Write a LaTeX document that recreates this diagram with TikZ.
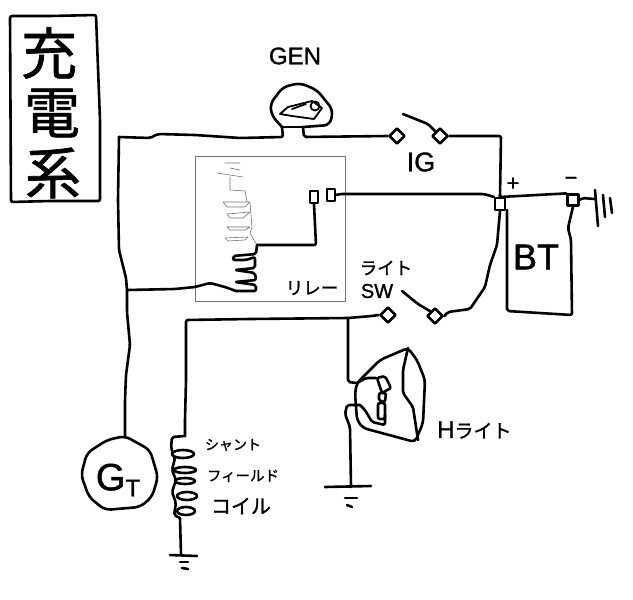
\documentclass[tikz,border=0pt]{standalone}
\usepackage{fontspec}
\setmainfont{Liberation Sans}
\newfontfamily\cjk[FakeBold=1.2]{Noto Sans CJK JP}
\newfontfamily\latmid[FakeBold=1.2]{Liberation Sans}
\usetikzlibrary{shapes.geometric}

\begin{document}
\begin{tikzpicture}[
  x=1pt, y=-1pt,
  line join=round,
  line cap=round,
  wire/.style={line width=2.6pt, rounded corners=2pt},
  fine/.style={line width=0.6pt, draw=black!55},
  term/.style={draw, line width=2.2pt, fill=white, minimum width=8pt, minimum height=12pt, inner sep=0pt},
  contact/.style={draw, diamond, line width=2.6pt, fill=white, minimum size=16pt, inner sep=0pt},
  jp/.style={font=\cjk\fontsize{#1}{#1}\selectfont, inner sep=0pt},
  lat/.style={font=\latmid\fontsize{#1}{#1}\selectfont, inner sep=0pt}
]
  \useasboundingbox (0,0) rectangle (633,600);

  % Title
  \draw[wire] (10,16) -- (50,16) -- (96,15) -- (100,120) -- (100,201) -- (50,201) -- (11,202) -- cycle;
  \node[jp=56] (title1) at (49,53) {充};
  \node[jp=56] (title2) at (52,113) {電};
  \node[jp=56] (title3) at (53,173) {系};

  % Main nodes
  \node[lat=24] (genlabel) at (295,56) {GEN};
  \node[draw=black!55, line width=0.8pt, minimum width=150pt, minimum height=145pt, inner sep=0pt] (relay) at (270,228.5) {};
  \node[jp=17.5] (relaylabel) at (312,288) {リレー};
  \node[term] (ra) at (314,197) {};
  \node[term] (rb) at (331,195) {};
  \node[contact] (igl) at (397,136) {};
  \node[contact] (igr) at (440,136) {};
  \node[lat=27] (iglabel) at (421,162) {IG};
  \node[term, minimum width=10pt] (btp) at (500,204) {};
  \node[term, minimum width=11pt, minimum height=11pt] (btn) at (573,200) {};
  \node[lat=22] (pluslabel) at (513,184) {+};
  \node[lat=22] (minuslabel) at (571,181) {\char"2212};
  \node[lat=36] (btlabel) at (536,257) {BT};
  \node[jp=17.5] (swlabel1) at (386,268) {ライト};
  \node[lat=20] (swlabel2) at (377,291) {SW};
  \node[contact] (swl) at (388,315) {};
  \node[contact] (swr) at (435,316) {};
  \node[lat=38] (gtlabel) at (118,480) {G\raisebox{-6pt}{\fontsize{24}{24}\selectfont T}};
  \node[jp=14] (shunt1) at (233,445) {シャント};
  \node[jp=14.5] (shunt2) at (243,476) {フィールド};
  \node[jp=20] (shunt3) at (241,506) {コイル};
  \node[lat=24, anchor=west] (hlabel) at (437,430) {H{\cjk\fontsize{19}{19}\selectfont ライト}};

  % Free ends and corners
  \coordinate (genl) at (282,127);
  \coordinate (genr) at (303,127);
  \coordinate (corner) at (119,137);
  \coordinate (tee) at (127,290);
  \coordinate (gtop) at (125,436);
  \coordinate (coiltop) at (185,436);
  \coordinate (coilbot) at (180,518);
  \coordinate (coilin) at (257,245);
  \coordinate (coilout) at (236,291);
  \coordinate (lamptee) at (348,318);
  \coordinate (lampin) at (357,383);
  \coordinate (lampout) at (360,405);
  \coordinate (lampgnd) at (351,487);
  \coordinate (coilgnd) at (181,555);
  \coordinate (gndr) at (595,199);

  % --- Edges ---
  \draw[wire] (genl) -- (283,137) -- (240,138) -- (195,135) -- (158,134) -- (150,138) -- (corner);
  \draw[wire] (corner) -- (118,200) -- (119,250) -- (126,278) -- (tee);
  \draw[wire] (tee) -- (127,312) -- (130,345) -- (126,375) -- (125,400) -- (gtop);
  \draw[wire] (genr) -- (304,137) -- (igl.west);
  \draw[wire] (igr.east) -- (501,136) -- (btp.north);
  \draw[wire] (rb.east) -- (340,194) -- (484,194) -- (btp.north west);
  \draw[wire] (btp.north) -- (500,197) -- (btn.north west);
  \draw[wire] (btp.south) -- (497,245) -- (490,265) -- (485,287) -- (470,309) -- (448,312) -- (swr.east);
  \draw[wire] (swl.west) -- (372,316) -- (lamptee) -- (250,319) -- (186,320) -- (186,380) -- (185,420) -- (coiltop);
  \draw[wire] (lamptee) -- (348,382) -- (lampin);
  \draw[wire] (tee) -- (175,289) -- (195,287) -- (210,283) -- (225,287) -- (coilout);
  \draw[wire] (coilin) -- (316,245) -- (ra.south);

  % Switch arms
  \draw[wire] (403,114) -- (428,124) -- (igr.north west);
  \draw[wire] (402,291) -- (418,304) -- (swr.north west);

  % Battery
  \draw[wire] (507,210) -- (507,311) -- (572,315) -- (571,240) -- (568,228) -- (btn.south);

  % Grounds
  \draw[wire] (btn.east) -- (582,198) -- (gndr);
  \draw[wire] (595,190) -- (598,226);
  \draw[wire] (603,195) -- (605,217);
  \draw[wire] (610,198) -- (612,213);
  \draw[wire] (coilbot) -- (coilgnd);
  \draw[wire] (170,555) -- (197,556);
  \draw[wire] (180,562) -- (188,562);
  \draw[wire] (182,568) -- (188,569);
  \draw[wire] (lampout) -- (347,405) -- (345,414) -- (350,427) -- (lampgnd);
  \draw[wire] (325,487) -- (371,486);
  \draw[wire] (345,498) -- (357,498);
  \draw[wire] (347,505) -- (352,507);

  % Generator
  \draw[wire, rounded corners=6pt] (genl) -- (272,116) -- (270,104) -- (283,87) -- (300,83) -- (317,90) -- (333,110) -- (330,125) -- (genr);
  \draw[wire] (genl) -- (genr);
  \draw[line width=1.8pt] (280,114) -- (288,107) -- (312,101) -- (322,108) -- (314,119) -- (292,116) -- cycle;
  \draw[line width=1.8pt] (315,106) circle (4.5pt);
  \draw[line width=1.8pt] (292,109) -- (306,104);

  % Generator at the bottom left
  \draw[wire, rounded corners=6pt] (gtop) -- (150,450) -- (158,477) -- (152,497) -- (140,507) -- (105,510) -- (89,497) -- (81,475) -- (87,453) -- (107,440) -- cycle;

  % Shunt coil
  \draw[wire] (coiltop) -- (172,437) -- (171,448) -- (175,458) -- (172,470) -- (176,480) -- (172,492) -- (176,503) -- (174,515) -- (coilbot);
  \draw[wire, fill=white] (183,454) ellipse [x radius=11, y radius=4];
  \draw[wire] (185,470) ellipse [x radius=11, y radius=3];
  \draw[wire] (185,481) ellipse [x radius=10, y radius=3];
  \draw[wire, fill=white] (187,496) ellipse [x radius=10, y radius=4];
  \draw[wire, fill=white] (186,511) ellipse [x radius=9, y radius=4];

  % Relay coil
  \draw[fine] (225,163) -- (240,163) (230,168) -- (240,170) (217,173) -- (243,177);
  \draw[fine] (230,177) -- (230,190) -- (245,191) -- (247,202);
  \draw[fine] (223,202) -- (250,202) -- (245,207) -- (227,207) -- cycle;
  \draw[fine] (227,214) -- (250,212) -- (243,218) -- (230,218) -- cycle;
  \draw[fine] (227,227) -- (250,227) -- (245,230) -- (230,230) -- cycle;
  \draw[fine] (225,238) -- (248,237) -- (245,240) -- (228,241) -- cycle;
  \draw[fine] (250,203) -- (252,227) -- (250,233) -- (257,245);
  \draw[wire] (coilin) -- (256,254) -- (233,256) -- (233,260) -- (246,260) -- (255,257) -- (255,268) -- (235,270) -- (255,273) -- (256,280) -- (235,282) -- (256,285) -- (256,291) -- (coilout);

  % Headlight
  \draw[wire, rounded corners=4pt] (lampin) -- (380,360) -- (408,348) -- (417,360) -- (425,380) -- (423,423) -- (415,442) -- (363,428) -- (357,420) -- (355,393) -- cycle;
  \draw[wire] (408,348) -- (403,370) -- (403,393) -- (413,407) -- (418,440);
  \draw[wire] (lampin) -- (366,378) -- (376,378);
  \draw[wire] (lampout) -- (365,410) -- (372,422) -- (385,425) -- (385,415);
  \draw[wire] (377,378) -- (385,376) -- (391,388) -- (382,393) -- cycle;
  \draw[wire] (379,393) -- (386,393) -- (385,402) -- (379,401) -- cycle;
  \draw[wire] (378,403) -- (385,403) -- (385,419) -- (378,419) -- cycle;
\end{tikzpicture}
\end{document}
